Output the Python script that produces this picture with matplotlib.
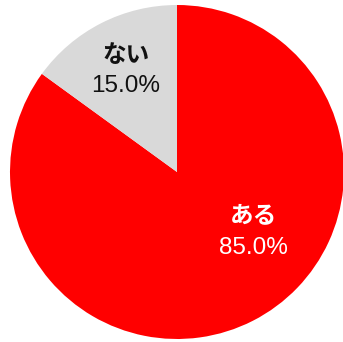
import matplotlib
matplotlib.use("Agg")
import matplotlib.pyplot as plt

labels = ['ある', 'ない']
values = [85.0, 15.0]
colors = ['#FF0000', '#D9D9D9']
text_colors = ['white', '#111111']

fig = plt.figure(figsize=(3.43, 3.42), dpi=100)
ax = fig.add_axes([0, 0, 1, 1])

ax.pie(values, colors=colors, startangle=90, counterclock=False,
       center=(177, 170), radius=167, frame=True)
ax.set_xlim(0, 343)
ax.set_ylim(0, 342)
ax.set_aspect('equal')
ax.axis('off')

# label positions (pixel coords, y up): name line, value line
pos = [(253, 127, 94), (126, 287, 256)]
for lab, v, c, (x, y1, y2) in zip(labels, values, text_colors, pos):
    ax.text(x, y1, lab, ha='center', va='center', fontsize=17,
            fontweight='bold', color=c, family=['Noto Sans CJK JP'])
    ax.text(x, y2, '%.1f%%' % v, ha='center', va='center', fontsize=17.5,
            color=c, family=['Liberation Sans'])

fig.savefig('out.png', dpi=100)
